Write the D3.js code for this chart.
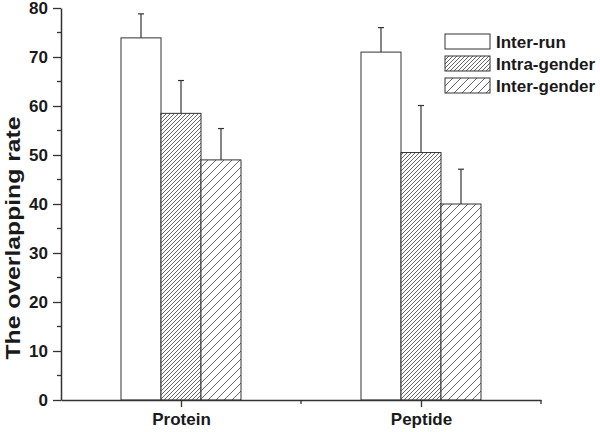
<!DOCTYPE html>
<html><head><meta charset="utf-8">
<script src="https://cdn.jsdelivr.net/npm/d3@7"></script>
<style>body{margin:0;background:#fff}svg{display:block}</style>
</head><body>
<svg id="c" width="600" height="432"></svg>
<script>
const categories = ["Protein", "Peptide"];
const seriesNames = ["Inter-run", "Intra-gender", "Inter-gender"];
const interRun = [73.9, 71.0];
const interRunErr = [4.9, 5.0];
const intraGender = [58.5, 50.5];
const intraGenderErr = [6.7, 9.6];
const interGender = [49.0, 40.0];
const interGenderErr = [6.4, 7.1];
const yTicks = [0, 10, 20, 30, 40, 50, 60, 70, 80];

(function () {
const series = [
  {name: seriesNames[0], values: interRun, err: interRunErr, fill: "#fff"},
  {name: seriesNames[1], values: intraGender, err: intraGenderErr, fill: "url(#hDense)"},
  {name: seriesNames[2], values: interGender, err: interGenderErr, fill: "url(#hSparse)"}
];

const svg = d3.select("#c");
const mLeft = 61, mRight = 541, mTop = 8, mBottom = 400;
const font = "'Liberation Sans', Arial, sans-serif";
const ink = "#333";
const txt = "#1a1a1a";

const defs = svg.append("defs");
function hatch(id, gap) {
  const p = defs.append("pattern").attr("id", id).attr("patternUnits", "userSpaceOnUse")
    .attr("width", gap).attr("height", gap);
  p.append("rect").attr("width", gap).attr("height", gap).attr("fill", "#fff");
  p.append("path").attr("d", `M${-gap},${gap*2} L${gap*2},${-gap} M${-gap},${gap} L${gap},${-gap} M0,${gap*2} L${gap*2},0`)
    .attr("stroke", "#555").attr("stroke-width", 0.9).attr("fill", "none");
}
hatch("hDense", 4);
hatch("hSparse", 8);

const x = d3.scaleLinear().domain([0, 4]).range([mLeft, mRight]);
const catPos = [1, 3];
const y = d3.scaleLinear().domain([0, 80]).range([mBottom, mTop]);
const bw = (x(1) - x(0)) / 3;

const g = svg.append("g");
series.forEach((s, si) => {
  categories.forEach((c, ci) => {
    const cx = x(catPos[ci]) + (si - 1) * bw;
    const v = s.values[ci], e = s.err[ci];
    g.append("line").attr("x1", cx).attr("x2", cx).attr("y1", y(v)).attr("y2", y(v + e))
      .attr("stroke", ink).attr("stroke-width", 1.2);
    g.append("line").attr("x1", cx - 3).attr("x2", cx + 3).attr("y1", y(v + e)).attr("y2", y(v + e))
      .attr("stroke", ink).attr("stroke-width", 1.2);
    g.append("rect").attr("x", cx - bw / 2).attr("y", y(v)).attr("width", bw).attr("height", y(0) - y(v))
      .attr("fill", s.fill).attr("stroke", ink).attr("stroke-width", 1);
  });
});

const yAxis = d3.axisLeft(y).tickValues(yTicks).tickSize(8).tickPadding(5).tickSizeOuter(0);
const ya = svg.append("g").attr("transform", `translate(${mLeft},0)`).call(yAxis);
ya.select(".domain").attr("stroke", ink).attr("stroke-width", 1.5);
ya.selectAll(".tick line").attr("stroke", ink).attr("stroke-width", 1.3);
ya.selectAll("text").attr("font-family", font).attr("font-weight", "bold").attr("font-size", 17).attr("fill", txt);
const yMinor = d3.range(5, 80, 10);
svg.append("g").selectAll("line").data(yMinor).join("line")
  .attr("x1", mLeft - 4).attr("x2", mLeft).attr("y1", d => y(d)).attr("y2", d => y(d))
  .attr("stroke", ink).attr("stroke-width", 1.3);

const xAxis = d3.axisBottom(x).tickValues(catPos).tickFormat((d, i) => categories[i]).tickSize(7).tickPadding(6).tickSizeOuter(0);
const xa = svg.append("g").attr("transform", `translate(0,${mBottom})`).call(xAxis);
xa.select(".domain").attr("stroke", ink).attr("stroke-width", 1.5);
xa.selectAll(".tick line").attr("stroke", ink).attr("stroke-width", 1.3);
xa.selectAll("text").attr("font-family", font).attr("font-weight", "bold").attr("font-size", 17).attr("fill", txt);
svg.append("g").selectAll("line").data([2, 4]).join("line")
  .attr("x1", d => x(d)).attr("x2", d => x(d)).attr("y1", mBottom).attr("y2", mBottom + 4)
  .attr("stroke", ink).attr("stroke-width", 1.3);

svg.append("text").attr("transform", "translate(20,238) rotate(-90)").attr("text-anchor", "middle")
  .attr("font-family", font).attr("font-weight", "bold").attr("font-size", 20).attr("fill", txt)
  .attr("textLength", 243).attr("lengthAdjust", "spacingAndGlyphs")
  .text("The overlapping rate");

const lg = svg.append("g").attr("transform", "translate(445,34)");
series.forEach((s, i) => {
  const row = lg.append("g").attr("transform", `translate(0,${i * 22})`);
  row.append("rect").attr("width", 45).attr("height", 15).attr("fill", s.fill).attr("stroke", ink).attr("stroke-width", 1);
  row.append("text").attr("x", 51).attr("y", 13.5).attr("font-family", font).attr("font-weight", "bold")
    .attr("font-size", 17).attr("fill", txt).text(s.name);
});
})();
</script>
</body></html>
